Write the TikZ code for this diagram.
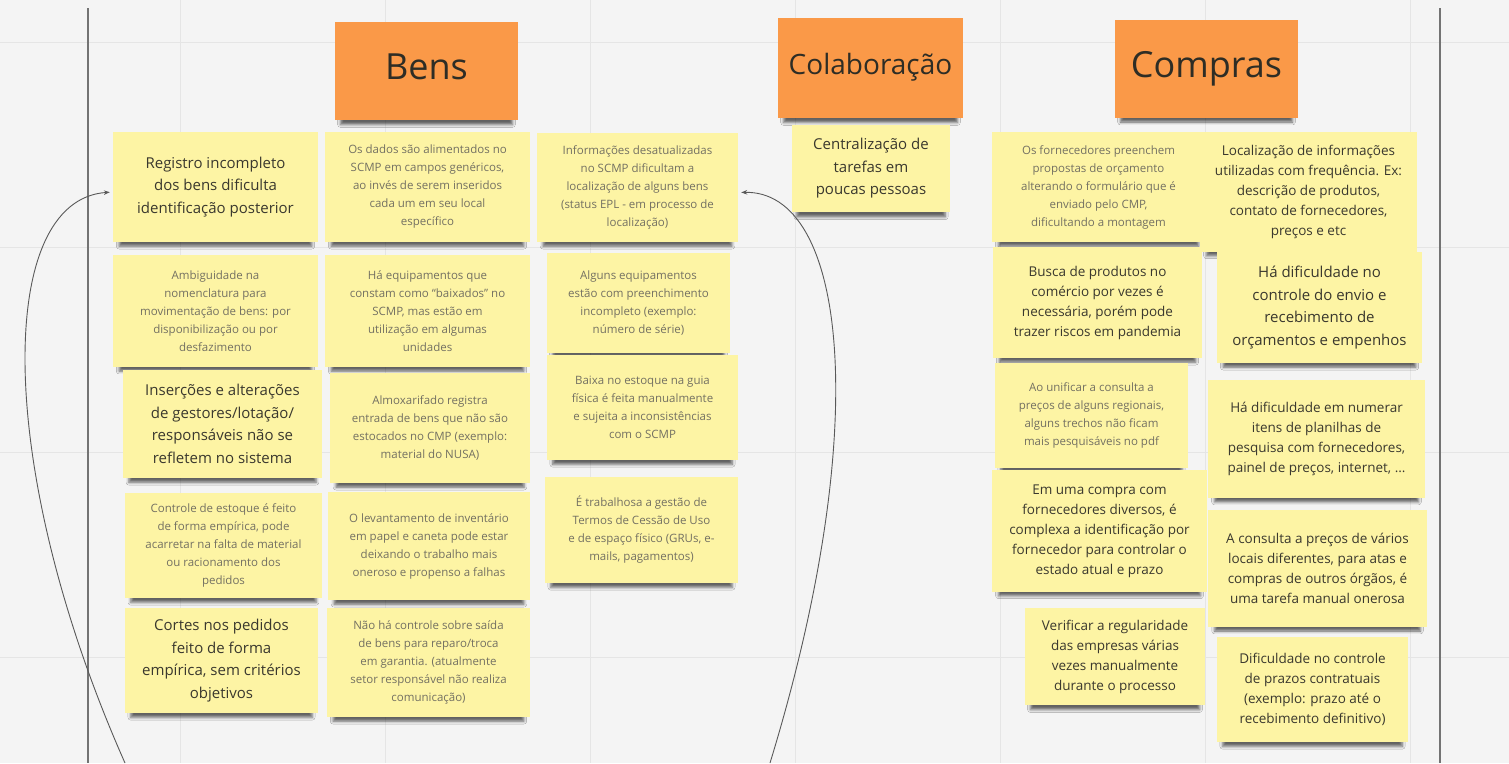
\documentclass[tikz,border=0pt]{standalone}
\usepackage{fontspec}
\setmainfont{Open Sans}
\usetikzlibrary{arrows.meta,shadows.blur}

\definecolor{sticky}{RGB}{253,244,164}
\definecolor{tag}{RGB}{250,153,72}
\definecolor{board}{RGB}{244,244,244}
\definecolor{gridline}{RGB}{229,229,229}
\definecolor{ink}{RGB}{58,56,46}
\definecolor{soft}{RGB}{115,112,98}

\begin{document}
\begin{tikzpicture}[x=1pt, y=-1pt,
    note/.style={fill=sticky, align=center, inner sep=0pt,
        blur shadow={shadow xshift=0pt, shadow yshift=-8pt, shadow scale=0.94,
            shadow blur radius=3pt, shadow opacity=60}},
    title/.style={note, fill=tag, text=ink!80!black, text depth=8pt,
        minimum width=183pt, minimum height=98pt},
    big/.style={font=\fontsize{15}{22.5}\selectfont, text=ink},
    mid/.style={font=\fontsize{13.5}{20}\selectfont, text=ink},
    small/.style={font=\fontsize{11.5}{18}\selectfont, text=soft},
    link/.style={draw=black!65, line width=0.9pt, -{Stealth[length=6pt]}}]

    % board
    \useasboundingbox[fill=board] (0,0) rectangle (1509,763);
    \foreach \gx in {180,385,590,795,1000,1205,1410}
        \draw[gridline] (\gx,0) -- (\gx,763);
    \foreach \gy in {42,247,452,657}
        \draw[gridline] (0,\gy) -- (1509,\gy);
    \draw[black!55, line width=1.2pt] (88,8) -- (88,763)
        (1440,8) -- (1440,763);

    % headers
    \node[title, font=\fontsize{36}{40}\selectfont] (bens) at (426.5,71) {Bens};
    \node[title, minimum width=185pt, minimum height=100pt,
        font=\fontsize{28}{32}\selectfont] (colab) at (870.5,68) {Colaboração};
    \node[title, font=\fontsize{36}{40}\selectfont] (compras) at (1206.5,68.5) {Compras};

    % Bens, first column
    \node[note, big, minimum width=205pt, minimum height=110pt] (reg) at (215.5,187)
        {Registro incompleto\\dos bens dificulta\\identificação posterior};
    \node[note, small, minimum width=205pt, minimum height=112pt] (amb) at (215.5,311)
        {Ambiguidade na\\nomenclatura para\\movimentação de bens: por\\disponibilização ou por\\desfazimento};
    \node[note, big, minimum width=199pt, minimum height=108pt] (ins) at (222.5,424)
        {Inserções e alterações\\de gestores/lotação/\\responsáveis não se\\refletem no sistema};
    \node[note, small, minimum width=197pt, minimum height=105pt] (ctrl) at (223.5,545.5)
        {Controle de estoque é feito\\de forma empírica, pode\\acarretar na falta de material\\ou racionamento dos\\pedidos};
    \node[note, big, minimum width=193pt, minimum height=105pt] (cort) at (221.5,660.5)
        {Cortes nos pedidos\\feito de forma\\empírica, sem critérios\\objetivos};

    % Bens, second column
    \node[note, small, minimum width=205pt, minimum height=110pt] (dados) at (427.5,187)
        {Os dados são alimentados no\\SCMP em campos genéricos,\\ao invés de serem inseridos\\cada um em seu local\\específico};
    \node[note, small, minimum width=205pt, minimum height=112pt] (baix) at (427.5,311)
        {Há equipamentos que\\constam como “baixados” no\\SCMP, mas estão em\\utilização em algumas\\unidades};
    \node[note, small, minimum width=200pt, minimum height=110pt] (almox) at (430,428)
        {Almoxarifado registra\\entrada de bens que não são\\estocados no CMP (exemplo:\\material do NUSA)};
    \node[note, small, minimum width=202pt, minimum height=108pt] (inv) at (429,546)
        {O levantamento de inventário\\em papel e caneta pode estar\\deixando o trabalho mais\\oneroso e propenso a falhas};
    \node[note, small, minimum width=203pt, minimum height=109pt] (saida) at (428.5,662.5)
        {Não há controle sobre saída\\de bens para reparo/troca\\em garantia. (atualmente\\setor responsável não realiza\\comunicação)};

    % Bens, third column
    \node[note, small, minimum width=201pt, minimum height=109pt] (info) at (637.5,187.5)
        {Informações desatualizadas\\no SCMP dificultam a\\localização de alguns bens\\(status EPL - em processo de\\localização)};
    \node[note, small, minimum width=183pt, minimum height=100pt] (incomp) at (638.5,303)
        {Alguns equipamentos\\estão com preenchimento\\incompleto (exemplo:\\número de série)};
    \node[note, small, minimum width=191pt, minimum height=105pt] (guia) at (642.5,407.5)
        {Baixa no estoque na guia\\física é feita manualmente\\e sujeita a inconsistências\\com o SCMP};
    \node[note, small, minimum width=193pt, minimum height=106pt] (cessao) at (641.5,530)
        {É trabalhosa a gestão de\\Termos de Cessão de Uso\\e de espaço físico (GRUs, e-\\mails, pagamentos)};

    % Colaboração
    \node[note, big, minimum width=158pt, minimum height=87pt] (centr) at (871,168.5)
        {Centralização de\\tarefas em\\poucas pessoas};

    % Compras, first column
    \node[note, small, minimum width=213pt, minimum height=110pt] (forn) at (1098.5,187)
        {Os fornecedores preenchem\\propostas de orçamento\\alterando o formulário que é\\enviado pelo CMP,\\dificultando a montagem};
    \node[note, mid, minimum width=209pt, minimum height=111pt] (busca) at (1097.5,302.5)
        {Busca de produtos no\\comércio por vezes é\\necessária, porém pode\\trazer riscos em pandemia};
    \node[note, small, minimum width=193pt, minimum height=105pt] (unif) at (1091.5,415.5)
        {Ao unificar a consulta a\\preços de alguns regionais,\\alguns trechos não ficam\\mais pesquisáveis no pdf};
    \node[note, mid, minimum width=215pt, minimum height=122pt] (diver) at (1099.5,531)
        {Em uma compra com\\fornecedores diversos, é\\complexa a identificação por\\fornecedor para controlar o\\estado atual e prazo};
    \node[note, mid, minimum width=180pt, minimum height=97pt] (regul) at (1115,656.5)
        {Verificar a regularidade\\das empresas várias\\vezes manualmente\\durante o processo};

    % Compras, second column
    \node[note, mid, minimum width=217pt, minimum height=120pt] (local) at (1308.5,192)
        {Localização de informações\\utilizadas com frequência. Ex:\\descrição de produtos,\\contato de fornecedores,\\preços e etc};
    \node[note, big, minimum width=205pt, minimum height=111pt] (envio) at (1319.5,307.5)
        {Há dificuldade no\\controle do envio e\\recebimento de\\orçamentos e empenhos};
    \node[note, mid, minimum width=217pt, minimum height=118pt] (numer) at (1316.5,439)
        {Há dificuldade em numerar\\itens de planilhas de\\pesquisa com fornecedores,\\painel de preços, internet, ...};
    \node[note, mid, minimum width=219pt, minimum height=117pt] (atas) at (1317.5,568.5)
        {A consulta a preços de vários\\locais diferentes, para atas e\\compras de outros órgãos, é\\uma tarefa manual onerosa};
    \node[note, mid, minimum width=191pt, minimum height=105pt] (prazo) at (1312.5,689.5)
        {Dificuldade no controle\\de prazos contratuais\\(exemplo: prazo até o\\recebimento definitivo)};

    % loose connectors running off the board
    \coordinate (lfoot) at (125,763);
    \coordinate (rfoot) at (770,763);
    \draw[link, shorten >=3pt] (lfoot) .. controls (-5,470) and (-5,200) .. ([yshift=-5pt]reg.west);
    \draw[link, shorten >=3pt] (rfoot) .. controls (875,420) and (845,190) .. ([yshift=-5pt]info.east);
\end{tikzpicture}
\end{document}
